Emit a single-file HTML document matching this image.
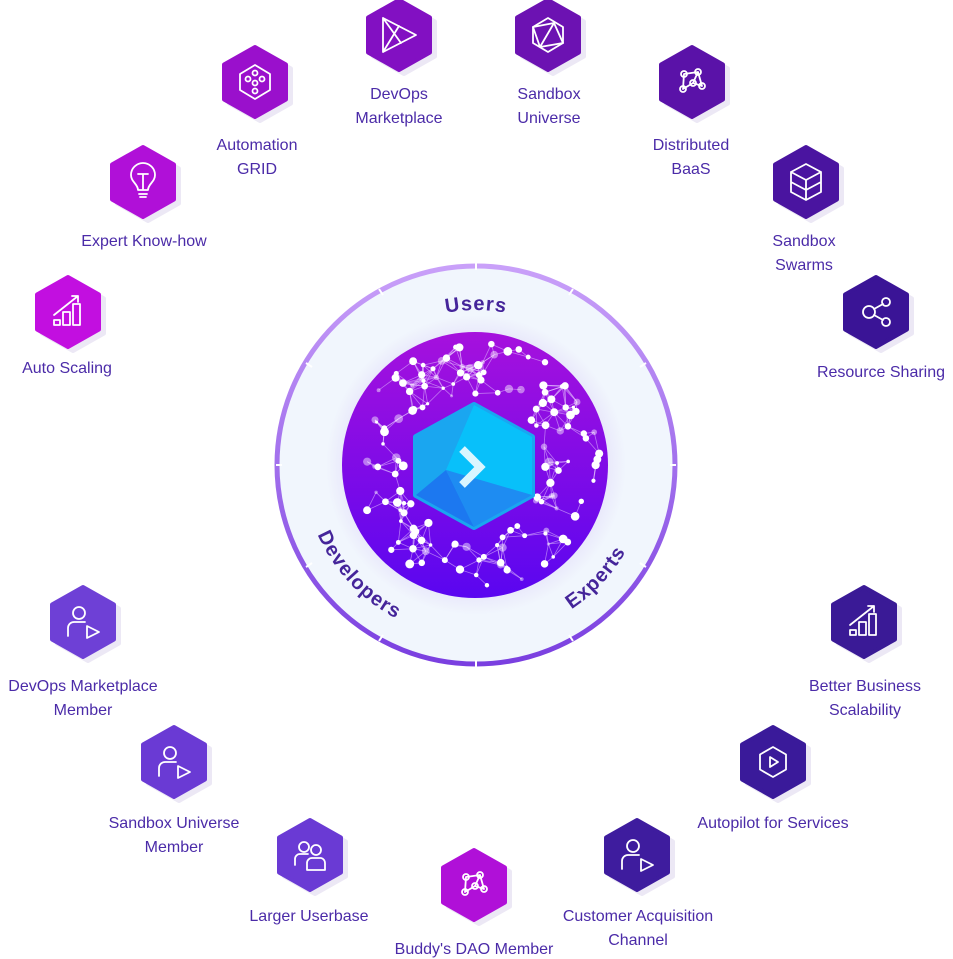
<!DOCTYPE html>
<html><head><meta charset="utf-8"><style>
html,body{margin:0;padding:0;background:#fff;}
svg{display:block}
.l{font-family:"Liberation Sans",sans-serif;font-size:16px;fill:#4b2ba8;text-anchor:middle}
.b{font-family:"Liberation Sans",sans-serif;font-size:20px;font-weight:bold;fill:#45259a;letter-spacing:1px}
.ic{fill:none;stroke:#fff;stroke-width:1.8;stroke-linejoin:round;stroke-linecap:round}
</style></head><body>
<svg width="953" height="959" viewBox="0 0 953 959" xmlns="http://www.w3.org/2000/svg">
<defs>
<polygon id="hx" points="0,-35 31,-17.5 31,17.5 0,35 -31,17.5 -31,-17.5" stroke-linejoin="round" stroke-width="4"/>
<linearGradient id="ring" x1="0" y1="0" x2="0" y2="1"><stop offset="0" stop-color="#c9a0f9"/><stop offset="1" stop-color="#7a3fe0"/></linearGradient>
<linearGradient id="inner" x1="0" y1="0" x2="0" y2="1"><stop offset="0" stop-color="#a611dd"/><stop offset="1" stop-color="#5a06f0"/></linearGradient>
<radialGradient id="glow"><stop offset="0.6" stop-color="#8a4ae0" stop-opacity="0.25"/><stop offset="1" stop-color="#8a4ae0" stop-opacity="0"/></radialGradient>
<path id="top" d="M 321 465 A 155 155 0 0 1 631 465"/>
<path id="bot" d="M 303 465 A 173 173 0 0 0 649 465"/>
</defs>

<circle cx="476" cy="465" r="199" fill="#f1f6fd" stroke="url(#ring)" stroke-width="5"/>
<g stroke="#fff" stroke-width="2">
<line x1="476" y1="263" x2="476" y2="270"/><line x1="573" y1="289" x2="569" y2="295"/><line x1="379" y1="289" x2="383" y2="295"/>
<line x1="646" y1="363" x2="640" y2="367"/><line x1="306" y1="363" x2="312" y2="367"/><line x1="676" y1="465" x2="670" y2="465"/>
<line x1="276" y1="465" x2="282" y2="465"/><line x1="646" y1="567" x2="640" y2="563"/><line x1="306" y1="567" x2="312" y2="563"/>
<line x1="573" y1="641" x2="569" y2="635"/><line x1="379" y1="641" x2="383" y2="635"/><line x1="476" y1="667" x2="476" y2="660"/>
</g>
<circle cx="476" cy="465" r="150" fill="url(#glow)"/>
<circle cx="475" cy="465" r="133" fill="url(#inner)"/>
<g id="net"></g>
<text class="b"><textPath href="#top" startOffset="50%" text-anchor="middle">Users</textPath></text>
<text class="b"><textPath href="#bot" startOffset="24%" text-anchor="middle">Developers</textPath></text>
<text class="b"><textPath href="#bot" startOffset="76%" text-anchor="middle">Experts</textPath></text>

<g transform="translate(474,465)">
<polygon points="0,-60 58,-28 58,30 0,62 -58,30 -58,-28" fill="#1aa6f0" stroke="#1aa6f0" stroke-width="6" stroke-linejoin="round"/>
<polygon points="0,-60 58,-28 58,30 -28,5" fill="#08c0fa"/>
<polygon points="-58,30 -28,5 0,62" fill="#1c78f0"/>
<polygon points="-28,5 58,30 0,62" fill="#1e8cf2"/>
<polyline points="-12,-16 6,2 -12,20" fill="none" stroke="#d9f6ff" stroke-width="8"/>
</g>

<g id="hexes"></g>

<text class="l" x="67" y="373">Auto Scaling</text>
<text class="l" x="144" y="246">Expert Know-how</text>
<text class="l" x="257" y="150">Automation</text><text class="l" x="257" y="174">GRID</text>
<text class="l" x="399" y="99">DevOps</text><text class="l" x="399" y="123">Marketplace</text>
<text class="l" x="549" y="99">Sandbox</text><text class="l" x="549" y="123">Universe</text>
<text class="l" x="691" y="150">Distributed</text><text class="l" x="691" y="174">BaaS</text>
<text class="l" x="804" y="246">Sandbox</text><text class="l" x="804" y="270">Swarms</text>
<text class="l" x="881" y="377">Resource Sharing</text>
<text class="l" x="865" y="691">Better Business</text><text class="l" x="865" y="715">Scalability</text>
<text class="l" x="773" y="828">Autopilot for Services</text>
<text class="l" x="638" y="921">Customer Acquisition</text><text class="l" x="638" y="945">Channel</text>
<text class="l" x="474" y="954">Buddy's DAO Member</text>
<text class="l" x="309" y="921">Larger Userbase</text>
<text class="l" x="174" y="828">Sandbox Universe</text><text class="l" x="174" y="852">Member</text>
<text class="l" x="83" y="691">DevOps Marketplace</text><text class="l" x="83" y="715">Member</text>
</svg>
<script>
var NS="http://www.w3.org/2000/svg";
var H=[[68,312,"#c20fe0","bar"],[143,182,"#b010d8","bulb"],[255,82,"#9a10cc","grid"],[399,35,"#8210c2","play"],[548,35,"#6c12b2","gem"],[692,82,"#5a12a8","net"],[806,182,"#4a14a0","box"],[876,312,"#3a1496","share"],[864,622,"#3a1a96","bar"],[773,762,"#3a1a9a","play2"],[637,855,"#3e1c9e","user"],[474,885,"#b010d8","net"],[310,855,"#6a3ad4","users"],[174,762,"#6a3ad4","user"],[83,622,"#6e40d6","user"]];
var icons={
bar:'<rect x="-14" y="8" width="6" height="5"/><rect x="-5" y="0" width="7" height="13"/><rect x="5" y="-8" width="7" height="21"/><path d="M-14 3 L10 -16 M4 -16 H10 V-10"/>',
bulb:'<path d="M-5 8 C-5 2 -12 0 -12 -7 A12 12 0 0 1 12 -7 C12 0 5 2 5 8 Z M-4 12 H4 M-3 15 H3 M-5 -8 H5 M0 -8 V8"/>',
grid:'<polygon points="0,-17 15,-8 15,8 0,17 -15,8 -15,-8"/><circle cx="0" cy="-9" r="2.5"/><circle cx="-7" cy="-3" r="2.5"/><circle cx="7" cy="-3" r="2.5"/><circle cx="0" cy="1" r="2.5"/><circle cx="0" cy="9" r="2.5"/>',
play:'<path d="M-16 -17 V17 L17 0 Z M-16 -17 L2 8 M-16 17 L0 -9"/>',
play2:'<polygon points="0,-15 13,-7.5 13,7.5 0,15 -13,7.5 -13,-7.5"/><path d="M-3 -5 L5 0 L-3 5 Z"/>',
gem:'<polygon points="0,-17 15,-8 15,8 0,17 -15,8 -15,-8"/><path d="M-15 -8 L6 -12 L15 8 L-8 12 Z M6 -12 L-8 12"/>',
net:'<circle cx="-8" cy="-8" r="3"/><circle cx="6" cy="-10" r="3"/><circle cx="10" cy="4" r="3"/><circle cx="-9" cy="7" r="3"/><circle cx="1" cy="1" r="3"/><path d="M-8 -8 L6 -10 L10 4 L1 1 L-9 7 L-8 -8 M1 1 L6 -10"/>',
box:'<path d="M-15 -10 L0 -18 L15 -10 L15 10 L0 18 L-15 10 Z M-15 -10 L0 -2 L15 -10 M0 -2 V18 M-15 0 L0 8 L15 0"/>',
share:'<circle cx="-7" cy="0" r="6"/><circle cx="10" cy="-10" r="4"/><circle cx="10" cy="10" r="4"/><path d="M-2 -3 L7 -8 M-2 3 L7 8"/>',
user:'<circle cx="-4" cy="-9" r="6"/><path d="M-15 14 V6 A6 6 0 0 1 -9 0 H2 M4 4 L16 10 L4 16 Z"/>',
users:'<circle cx="-6" cy="-8" r="5"/><circle cx="6" cy="-5" r="5"/><path d="M-15 10 V4 A5 5 0 0 1 -10 -1 H-2 M-3 15 V8 A5 5 0 0 1 2 3 H11 A5 5 0 0 1 15 8 V15 Z"/>'};
var s="";
H.forEach(function(h){s+='<g transform="translate('+h[0]+','+h[1]+')"><use href="#hx" x="5" y="4" fill="#ece8f5" stroke="#ece8f5"/><use href="#hx" fill="'+h[2]+'" stroke="'+h[2]+'"/><g class="ic">'+icons[h[3]]+'</g></g>';});
document.getElementById("hexes").innerHTML=s;
var seed=7;function r(){seed=(seed*16807)%2147483647;return seed/2147483647;}
var pts=[];for(var i=0;i<150;i++){var a=r()*Math.PI*2,d=70+r()*55;pts.push([475+Math.cos(a)*d,465+Math.sin(a)*d]);}
var n="";
for(var i=0;i<pts.length;i++){for(var j=i+1;j<pts.length;j++){var dx=pts[i][0]-pts[j][0],dy=pts[i][1]-pts[j][1];if(dx*dx+dy*dy<500)n+='<line x1="'+pts[i][0]+'" y1="'+pts[i][1]+'" x2="'+pts[j][0]+'" y2="'+pts[j][1]+'" stroke="#e8c8ff" stroke-opacity="0.55" stroke-width="0.8"/>';}}
pts.forEach(function(p){var rr=1.5+r()*3;n+='<circle cx="'+p[0]+'" cy="'+p[1]+'" r="'+rr+'" fill="#fff" fill-opacity="'+(r()<0.2?0.45:1)+'"/>';});
document.getElementById("net").innerHTML=n;
</script>
</body></html>
